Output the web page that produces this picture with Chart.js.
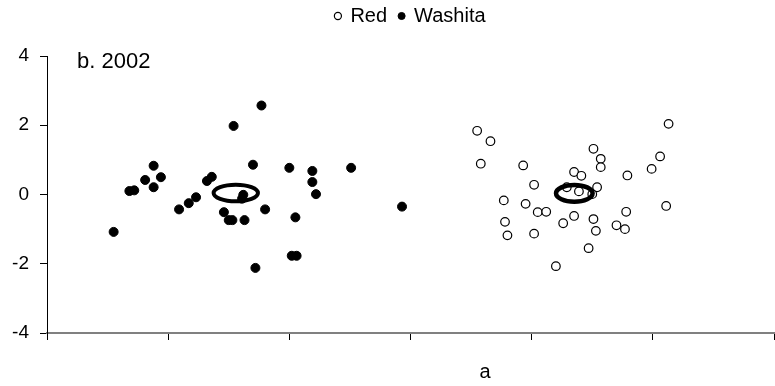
<!DOCTYPE html>
<html>
<head>
<meta charset="utf-8">
<script src="https://cdn.jsdelivr.net/npm/chart.js@4.4.1/dist/chart.umd.min.js"></script>
<style>
  html, body { margin: 0; padding: 0; background: #fff; }
  #wrap { width: 775px; height: 386px; }
</style>
</head>
<body>
<div id="wrap"><canvas id="scoreChart"></canvas></div>
<script>
// Red River sites (open circles)
const redX = [3.55, 3.66, 3.58, 3.93, 4.02, 3.77, 3.95, 4.05, 4.12, 3.78, 3.80, 4.02,
  4.26, 4.35, 4.20, 4.47, 4.51, 4.53, 4.70, 4.77, 4.78, 4.35, 4.41, 4.51, 4.57, 4.57,
  4.79, 4.54, 4.50, 4.39, 4.29, 4.99, 5.06, 5.13, 5.11];
const redY = [1.84, 1.54, 0.89, 0.84, 0.28, -0.17, -0.27, -0.51, -0.50, -0.79, -1.18, -1.13,
  -0.83, -0.62, -2.07, -1.55, -0.71, -1.05, -0.89, -1.00, -0.50, 0.65, 0.54, 1.32, 1.03, 0.79,
  0.55, 0.21, 0.01, 0.09, 0.21, 0.74, 1.10, 2.04, -0.33];

// Washita River sites (filled circles)
const washitaX = [1.77, 1.54, 0.88, 0.94, 0.81, 0.88, 0.68, 0.72, 0.55, 1.09, 1.17, 1.23,
  1.32, 1.36, 1.70, 1.62, 1.61, 1.46, 1.50, 1.53, 1.63, 1.80, 2.00, 2.19, 2.19, 2.22,
  2.05, 2.02, 2.06, 1.72, 2.51, 2.93];
const washitaY = [2.57, 1.98, 0.83, 0.50, 0.42, 0.21, 0.10, 0.12, -1.08, -0.43, -0.25, -0.08,
  0.39, 0.51, 0.86, -0.01, -0.12, -0.51, -0.74, -0.74, -0.74, -0.43, 0.77, 0.68, 0.36, 0.01,
  -0.66, -1.77, -1.77, -2.12, 0.77, -0.35];

// group centroids with their ellipse half-axes (axis units): Red, Washita
const ellipseCx = [4.352, 1.558];
const ellipseCy = [0.033, 0.043];
const ellipseRx = [0.151, 0.183];
const ellipseRy = [0.243, 0.24];
const ellipseWidth = [4.5, 4];

const yTicks = [-4, -2, 0, 2, 4];

const FONT = '"Liberation Sans", Arial, sans-serif';

const toPoints = (xs, ys) => xs.map((x, i) => ({ x: x, y: ys[i] }));

// centroid ellipses
const ellipsePlugin = {
  id: 'ellipses',
  afterDatasetsDraw(chart) {
    const { ctx, scales: { x, y } } = chart;
    ctx.save();
    ctx.strokeStyle = '#000';
    ellipseCx.forEach((cx, i) => {
      const px = x.getPixelForValue(cx);
      const py = y.getPixelForValue(ellipseCy[i]);
      const rx = Math.abs(x.getPixelForValue(cx + ellipseRx[i]) - px);
      const ry = Math.abs(y.getPixelForValue(ellipseCy[i] + ellipseRy[i]) - py);
      ctx.lineWidth = ellipseWidth[i];
      ctx.beginPath();
      ctx.ellipse(px, py, rx, ry, 0, 0, Math.PI * 2);
      ctx.stroke();
    });
    ctx.restore();
  }
};

// panel label and the axis title under the x axis
const labels = {
  id: 'labels',
  afterDraw(chart) {
    const { ctx, chartArea } = chart;
    ctx.save();
    ctx.fillStyle = '#000';
    ctx.textBaseline = 'alphabetic';
    ctx.font = '22px ' + FONT;
    ctx.fillText('b. 2002', chartArea.left + 30, chartArea.top + 12);
    ctx.font = '20px ' + FONT;
    ctx.textAlign = 'center';
    ctx.fillText('a', chartArea.left + chartArea.width * 0.6025, chartArea.bottom + 45);
    ctx.restore();
  }
};

// extra room between the legend and the plot; legend row sits a little higher
const legendGap = {
  id: 'legendGap',
  beforeInit(chart) {
    const legend = chart.legend;
    const fit = legend.fit;
    const draw = legend.draw;
    legend.fit = function () {
      fit.call(legend);
      this.height += 14;
    };
    legend.draw = function (area) {
      const ctx = this.ctx;
      ctx.save();
      ctx.translate(0, -6);
      draw.call(legend, area);
      ctx.restore();
    };
  }
};

new Chart(document.getElementById('scoreChart'), {
  type: 'scatter',
  data: {
    datasets: [
      {
        label: 'Red',
        data: toPoints(redX, redY),
        backgroundColor: '#fff',
        borderColor: '#000',
        borderWidth: 1.2,
        pointRadius: 4.3
      },
      {
        label: 'Washita',
        data: toPoints(washitaX, washitaY),
        backgroundColor: '#000',
        borderColor: '#000',
        borderWidth: 1,
        pointRadius: 4.5
      }
    ]
  },
  options: {
    responsive: true,
    maintainAspectRatio: false,
    animation: false,
    layout: { autoPadding: false, padding: { top: 0, right: 1, bottom: 0, left: 0 } },
    scales: {
      x: {
        min: 0,
        max: 6,
        ticks: { stepSize: 1, display: false },
        grid: { drawOnChartArea: false, tickLength: 7, color: '#000' },
        border: { color: '#808080', width: 2 },
        afterFit: axis => { axis.height = 53; }
      },
      y: {
        min: -4,
        max: 4,
        afterBuildTicks: axis => { axis.ticks = yTicks.map(v => ({ value: v })); },
        ticks: {
          color: '#000',
          padding: 11,
          font: { family: FONT, size: 19 }
        },
        grid: { drawOnChartArea: false, tickLength: 7, color: '#000' },
        border: { color: '#000', width: 1 },
        afterFit: axis => { axis.width = 47; }
      }
    },
    plugins: {
      legend: {
        position: 'top',
        fullSize: false,
        labels: {
          usePointStyle: true,
          boxWidth: 5,
          boxHeight: 5,
          color: '#000',
          padding: 12,
          font: { family: FONT, size: 20 }
        }
      },
      tooltip: { enabled: false }
    }
  },
  plugins: [legendGap, ellipsePlugin, labels]
});
</script>
</body>
</html>
